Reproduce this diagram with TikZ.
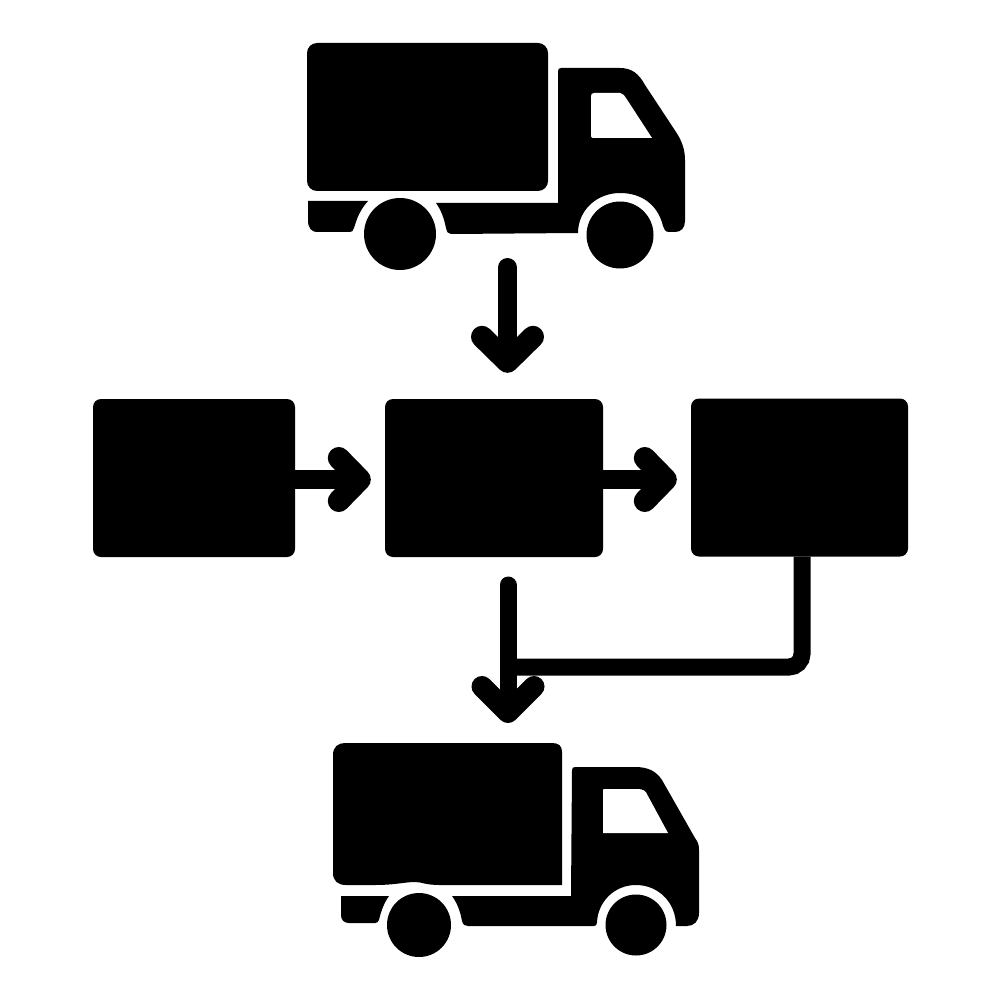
\documentclass[tikz,border=0pt]{standalone}
\usetikzlibrary{arrows.meta}
\tikzset{
  stagebox/.style={rectangle,fill=black,rounded corners=8pt,inner sep=0pt,minimum height=158pt},
  flowline/.style={draw=black,line cap=round,line join=round},
  flowdown/.style={flowline,line width=19pt,
    -{Straight Barb[length=25pt,width=51pt,line width=22pt,round]}},
  flowdownthin/.style={flowline,line width=17pt,
    -{Straight Barb[length=26pt,width=52pt,line width=21pt,round]}},
  flowright/.style={flowline,line width=19pt,
    -{Straight Barb[length=21pt,width=43pt,line width=22pt,round]}},
  feed/.style={draw=black,line width=17pt,rounded corners=13pt},
  solid black/.style={fill=black,draw=none},
  glass/.style={fill=white,draw=none}
}
\begin{document}
\begin{tikzpicture}[x=1pt,y=-1pt]
\useasboundingbox[fill=white] (0,0) rectangle (1000,1000);

% upper truck
\fill[solid black,rounded corners=10pt] (307,43) rectangle (548,191);
\fill[solid black] (558,71) .. controls (558,69) and (559,68) .. (561,68) -- (620,68)
  .. controls (632,68) and (639,74) .. (645,85) -- (676,132)
  .. controls (682,141) and (685,150) .. (685,160) -- (685,221)
  .. controls (685,228) and (681,232) .. (675,232) -- (669,232)
  .. controls (665,232) and (664,229) .. (663,226)
  .. controls (658,205) and (642,193) .. (620,193)
  .. controls (597,193) and (578,210) .. (578,233)
  -- (451,234) .. controls (448,234) and (447,232) .. (446,228)
  .. controls (444,218) and (441,210) .. (436,203) -- (558,203) -- cycle;
\fill[solid black] (308,201) -- (368,201) .. controls (360,210) and (357,218) .. (354,228)
  .. controls (353,231) and (352,232) .. (350,232) -- (318,232)
  .. controls (311,232) and (308,228) .. (308,220) -- cycle;
\fill[solid black] (400,234) circle[radius=36pt];
\fill[solid black] (620,235) circle[radius=33.5pt];
\fill[glass] (591,96) .. controls (591,94) and (592,93) .. (594,93) -- (620,93)
  .. controls (622,93) and (624,95) .. (626,98) -- (652,138) -- (593,138)
  .. controls (592,138) and (591,137) .. (591,136) -- cycle;

% lower truck
\fill[solid black] (345,743) -- (552,743) .. controls (559,743) and (562,746) .. (562,752)
  -- (562,885) -- (440,885) .. controls (425,885) and (422,882) .. (415,882)
  .. controls (405,882) and (395,885) .. (375,885) -- (346,885)
  .. controls (338,885) and (333,881) .. (333,873) -- (333,755)
  .. controls (333,747) and (338,743) .. (345,743) -- cycle;
\fill[solid black] (572,770) .. controls (572,768) and (573,767) .. (575,767) -- (635,767)
  .. controls (648,767) and (656,771) .. (662,780) -- (695,838)
  .. controls (698,842) and (699,845) .. (699,850) -- (699,913)
  .. controls (699,921) and (694,926) .. (687,926) -- (676,926)
  .. controls (676,902) and (658,885) .. (636,885)
  .. controls (614,885) and (598,902) .. (597,922)
  .. controls (597,925) and (596,926) .. (594,926) -- (468,926)
  .. controls (465,926) and (463,925) .. (462,921)
  .. controls (460,910) and (457,903) .. (452,896) -- (571,896) -- cycle;
\fill[solid black] (341,896) -- (389,896) .. controls (384,903) and (381,911) .. (379,920)
  .. controls (378,922) and (377,923) .. (375,923) -- (349,923)
  .. controls (344,923) and (341,920) .. (341,915) -- cycle;
\fill[solid black] (419,925) circle[radius=32pt];
\fill[solid black] (636,925) circle[radius=30.5pt];
\fill[glass] (603,790) .. controls (603,789) and (604,789) .. (605,789) -- (638,789)
  .. controls (643,789) and (646,791) .. (648,796) -- (668,833) -- (603,833) -- cycle;

% stages
\node[stagebox,minimum width=202pt] (source) at (194,478) {};
\node[stagebox,minimum width=218pt] (centre) at (494,478) {};
\node[stagebox,minimum width=217pt] (sink) at (799.5,477.5) {};

% free ends of the connectors, at the trucks
\coordinate (upper) at (507.5,267.5);
\coordinate (lower) at (508,743);
\coordinate (start) at (508,585);
\coordinate (corner) at (802,667);
\coordinate (join) at (508,667);
\coordinate (level) at (0,479.5);

% connectors
\draw[flowdown,shorten >=26pt] (upper) -- (upper |- centre.north);
\draw[flowright,shorten >=14pt] (source.east |- level) -- (centre.west |- level);
\draw[flowright,shorten >=14pt] (centre.east |- level) -- (sink.west |- level);
\draw[flowdownthin,shorten >=20pt] (start) -- (lower);
\draw[feed] (corner |- sink.south) -- (corner) -- (join);
\end{tikzpicture}
\end{document}
